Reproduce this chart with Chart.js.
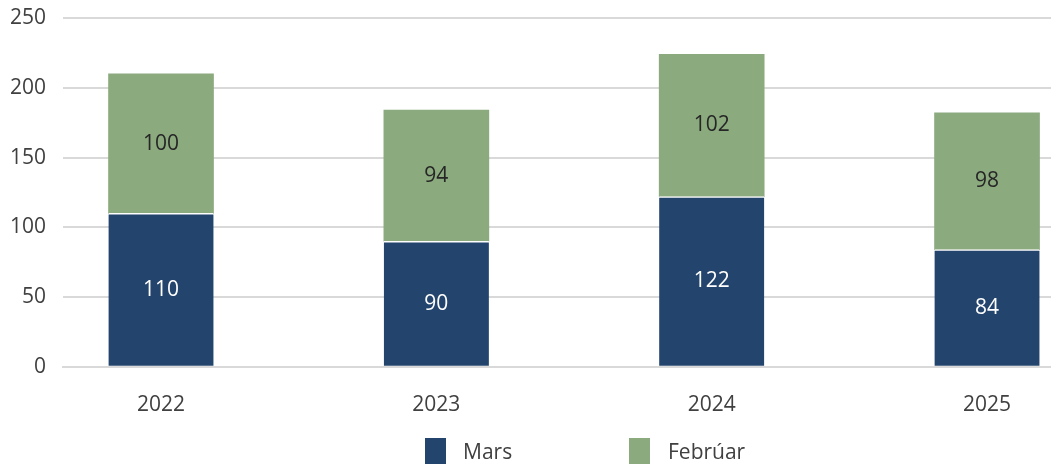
<!DOCTYPE html>
<html>
<head>
<meta charset="utf-8">
<script src="https://cdn.jsdelivr.net/npm/chart.js@4/dist/chart.umd.min.js"></script>
<style>
  body { margin: 0; background: #fff; }
  #wrap { position: relative; width: 1051px; height: 465px; overflow: hidden; }
  #legend { position: absolute; left: 0; top: 438px; font: 21px "Open Sans", sans-serif; color: #404040; }
  #legend .box { position: absolute; top: 0; width: 21px; height: 26px; }
  #legend .txt { position: absolute; top: -1px; line-height: 28px; white-space: nowrap; }
</style>
</head>
<body>
<div id="wrap">
  <canvas id="chart" width="1166" height="465"></canvas>
  <div id="legend"></div>
</div>
<script>
const years = ['2022', '2023', '2024', '2025'];
const mars = [110, 90, 122, 84];
const februar = [100, 94, 102, 98];
const yTicks = [0, 50, 100, 150, 200, 250];

const blue = '#23446c';
const green = '#8baa7e';
const font = '"Open Sans", sans-serif';

// Legend drawn as html, spacing like the original
const legend = document.getElementById('legend');
[['Mars', blue, 425, 463], ['Febrúar', green, 629, 668]].forEach(function (item) {
  const b = document.createElement('div');
  b.className = 'box';
  b.style.left = item[2] + 'px';
  b.style.background = item[1];
  legend.appendChild(b);
  const t = document.createElement('div');
  t.className = 'txt';
  t.style.left = item[3] + 'px';
  t.textContent = item[0];
  legend.appendChild(t);
});

const barLabels = {
  id: 'barLabels',
  afterDatasetsDraw(chart) {
    const ctx = chart.ctx;
    ctx.save();
    ctx.font = '21px ' + font;
    ctx.textAlign = 'center';
    ctx.textBaseline = 'middle';
    chart.data.datasets.forEach(function (ds, i) {
      const meta = chart.getDatasetMeta(i);
      meta.data.forEach(function (el, j) {
        ctx.fillStyle = i === 0 ? '#ffffff' : '#262626';
        ctx.fillText(String(ds.data[j].y), el.x, (el.y + el.base) / 2);
      });
    });
    ctx.restore();
  }
};

const ctx = document.getElementById('chart').getContext('2d');
const myChart = new Chart(ctx, {
  type: 'bar',
  data: {
    datasets: [{
      label: 'Mars',
      data: mars.map(function (v, i) { return { x: i, y: v }; }),
      backgroundColor: blue,
      borderColor: '#ffffff',
      borderWidth: { top: 1.5, right: 0, bottom: 0, left: 0 },
      borderSkipped: false,
      barThickness: 105
    },
    {
      label: 'Febrúar',
      data: februar.map(function (v, i) { return { x: i, y: v }; }),
      backgroundColor: green,
      borderWidth: 0,
      barThickness: 105
    }]
  },
  options: {
    responsive: false,
    animation: false,
    layout: { padding: { top: 18, bottom: 29, left: 0, right: 0 } },
    plugins: {
      legend: { display: false },
      tooltip: { enabled: false }
    },
    scales: {
      x: {
        type: 'linear',
        stacked: true,
        offset: false,
        min: -0.356,
        max: 3.65,
        afterBuildTicks: function (scale) {
          scale.ticks = years.map(function (y, i) { return { value: i }; });
        },
        grid: { display: false },
        border: { display: true, color: '#d9d9d9', width: 2 },
        ticks: {
          autoSkip: false,
          maxRotation: 0,
          padding: 18,
          color: '#404040',
          font: { family: font, size: 21 },
          callback: function (v) {
            return years[v] || '';
          }
        }
      },
      y: {
        stacked: true,
        min: yTicks[0],
        max: yTicks[yTicks.length - 1],
        afterFit: function (scale) {
          scale.width = 63;
          scale.paddingTop = 0;
          scale.paddingBottom = 0;
        },
        grid: { color: '#d9d9d9', lineWidth: 2, drawTicks: false },
        border: { display: false },
        ticks: {
          stepSize: 50,
          padding: 17,
          color: '#404040',
          font: { family: font, size: 21 }
        }
      }
    }
  },
  plugins: [barLabels]
});
</script>
</body>
</html>
